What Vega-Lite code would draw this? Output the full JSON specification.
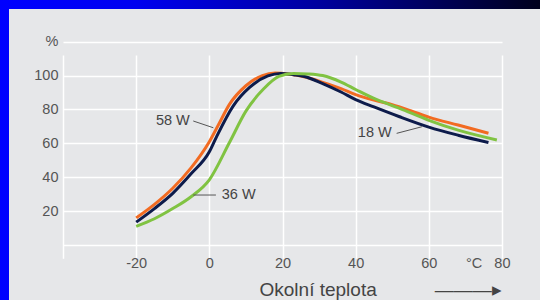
{
  "$schema": "https://vega.github.io/schema/vega-lite/v6.json",
  "width": 540,
  "height": 300,
  "autosize": {"type": "none"},
  "padding": 0,
  "background": "#e6e7e9",
  "config": {
    "font": "Liberation Sans",
    "view": {
      "fill": "#e6e7e9",
      "stroke": {
        "gradient": "linear", "x1": 0, "y1": 0, "x2": 1, "y2": 0,
        "stops": [
          {"offset": 0, "color": "#0000ff"},
          {"offset": 0.25, "color": "#0000f0"},
          {"offset": 0.6, "color": "#00009c"},
          {"offset": 1, "color": "#00001c"}
        ]
      },
      "strokeWidth": 18,
      "strokeDash": [540, 840, 300]
    }
  },
  "encoding": {
    "x": {
      "field": "t", "type": "quantitative",
      "scale": {"domain": [-40, 80], "range": [63, 502], "nice": false, "zero": false},
      "axis": {
        "values": [-40, -20, 0, 20, 40, 60, 80],
        "offset": -55,
        "domain": false, "ticks": false, "tickSize": 0,
        "labelPadding": 11,
        "labelFlush": false, "labelOverlap": false,
        "labelExpr": "datum.value == -40 ? '' : (datum.value == 80 ? '°C\u00a0\u00a0\u00a080' : (datum.value == -20 ? '-20' : datum.label))",
        "labelAlign": {"condition": {"test": "datum.value == 80", "value": "right"}, "value": "center"},
        "labelOffset": {"condition": {"test": "datum.value == 80", "value": 8}, "value": 0},
        "labelFontSize": 14.5, "labelColor": "#555555",
        "gridColor": "#ffffff", "gridWidth": 1.5, "gridOpacity": 1,
        "title": "Okolní teplota\u00a0\u00a0\u00a0\u00a0\u00a0\u00a0\u00a0\u00a0\u00a0\u00a0\u00a0———▸",
        "titleAlign": "left", "titleX": 259, "titleY": 50, "titleBaseline": "alphabetic",
        "titleFontSize": 19, "titleFontWeight": "normal", "titleColor": "#444444"
      }
    },
    "y": {
      "field": "v", "type": "quantitative",
      "scale": {"domain": [0, 120], "range": [245, 41.7], "nice": false, "zero": false},
      "axis": {
        "values": [0, 20, 40, 60, 80, 100, 120],
        "offset": -63,
        "domain": false, "ticks": false, "tickSize": 0,
        "labelPadding": 5, "labelOverlap": false, "labelFlush": false,
        "labelExpr": "datum.value == 120 ? '%' : (datum.value == 0 ? '' : datum.label)",
        "labelFontSize": 14.5, "labelColor": "#555555",
        "gridColor": "#ffffff", "gridWidth": 1.5, "gridOpacity": 1,
        "title": null
      }
    }
  },
  "layer": [
    {
      "data": {"values": [
        {"s": "58 W", "t": -20, "v": 16}, {"s": "58 W", "t": -15, "v": 24}, {"s": "58 W", "t": -10, "v": 33.5},
        {"s": "58 W", "t": -5, "v": 45.5}, {"s": "58 W", "t": 0, "v": 61}, {"s": "58 W", "t": 2.5, "v": 71},
        {"s": "58 W", "t": 5.5, "v": 83}, {"s": "58 W", "t": 10, "v": 94}, {"s": "58 W", "t": 14.5, "v": 100},
        {"s": "58 W", "t": 18, "v": 101.5}, {"s": "58 W", "t": 22, "v": 100.8}, {"s": "58 W", "t": 26.5, "v": 99},
        {"s": "58 W", "t": 31, "v": 96}, {"s": "58 W", "t": 36, "v": 92.3}, {"s": "58 W", "t": 40, "v": 88.8},
        {"s": "58 W", "t": 45, "v": 85.5}, {"s": "58 W", "t": 50, "v": 82.8}, {"s": "58 W", "t": 55, "v": 79.3},
        {"s": "58 W", "t": 60, "v": 75.5}, {"s": "58 W", "t": 68, "v": 70.8}, {"s": "58 W", "t": 76.3, "v": 66},
        {"s": "18 W", "t": -20, "v": 13.5}, {"s": "18 W", "t": -15, "v": 21.5}, {"s": "18 W", "t": -10, "v": 30.5},
        {"s": "18 W", "t": -5, "v": 42}, {"s": "18 W", "t": 0, "v": 55}, {"s": "18 W", "t": 2, "v": 64},
        {"s": "18 W", "t": 6.5, "v": 82}, {"s": "18 W", "t": 11, "v": 93}, {"s": "18 W", "t": 16, "v": 99.8},
        {"s": "18 W", "t": 19.5, "v": 101.3}, {"s": "18 W", "t": 23, "v": 100.5}, {"s": "18 W", "t": 26, "v": 99.5},
        {"s": "18 W", "t": 31, "v": 95.3}, {"s": "18 W", "t": 36, "v": 90.3}, {"s": "18 W", "t": 40, "v": 85.8},
        {"s": "18 W", "t": 45, "v": 81.5}, {"s": "18 W", "t": 52, "v": 75.7}, {"s": "18 W", "t": 60, "v": 69.6},
        {"s": "18 W", "t": 68, "v": 64.8}, {"s": "18 W", "t": 76.3, "v": 60.5},
        {"s": "36 W", "t": -20, "v": 11}, {"s": "36 W", "t": -15, "v": 15.5}, {"s": "36 W", "t": -10, "v": 21.5},
        {"s": "36 W", "t": -5, "v": 28.5}, {"s": "36 W", "t": 0, "v": 38.5}, {"s": "36 W", "t": 5.5, "v": 60.5},
        {"s": "36 W", "t": 10, "v": 79}, {"s": "36 W", "t": 15, "v": 92.5}, {"s": "36 W", "t": 19, "v": 99.5},
        {"s": "36 W", "t": 23, "v": 101.3}, {"s": "36 W", "t": 27, "v": 101}, {"s": "36 W", "t": 31, "v": 100},
        {"s": "36 W", "t": 36, "v": 96.2}, {"s": "36 W", "t": 40, "v": 91.8}, {"s": "36 W", "t": 45, "v": 86.5},
        {"s": "36 W", "t": 52, "v": 80.7}, {"s": "36 W", "t": 60, "v": 73.6}, {"s": "36 W", "t": 68, "v": 67.8},
        {"s": "36 W", "t": 78.6, "v": 62}
      ]},
      "mark": {"type": "line", "interpolate": "monotone", "strokeWidth": 3, "clip": false},
      "encoding": {
        "color": {
          "field": "s", "type": "nominal",
          "scale": {"domain": ["58 W", "18 W", "36 W"], "range": ["#f26b22", "#0d1b4b", "#80c342"]},
          "legend": null
        }
      }
    },
    {
      "data": {"values": [
        {"t": -4.4, "v": 73.2, "t2": 1.1, "v2": 69.2},
        {"t": -4.4, "v": 29.5, "t2": 1.8, "v2": 29.5},
        {"t": 51.2, "v": 65.9, "t2": 58.1, "v2": 69.8}
      ]},
      "mark": {"type": "rule", "color": "#555555", "strokeWidth": 1},
      "encoding": {
        "x2": {"field": "t2"},
        "y2": {"field": "v2"}
      }
    },
    {
      "data": {"values": [
        {"label": "58 W", "t": -14.6, "v": 73.2},
        {"label": "36 W", "t": 3.4, "v": 29.8},
        {"label": "18 W", "t": 40.6, "v": 66.1}
      ]},
      "mark": {"type": "text", "align": "left", "baseline": "middle", "fontSize": 14.5, "color": "#444444"},
      "encoding": {
        "text": {"field": "label"}
      }
    }
  ]
}
